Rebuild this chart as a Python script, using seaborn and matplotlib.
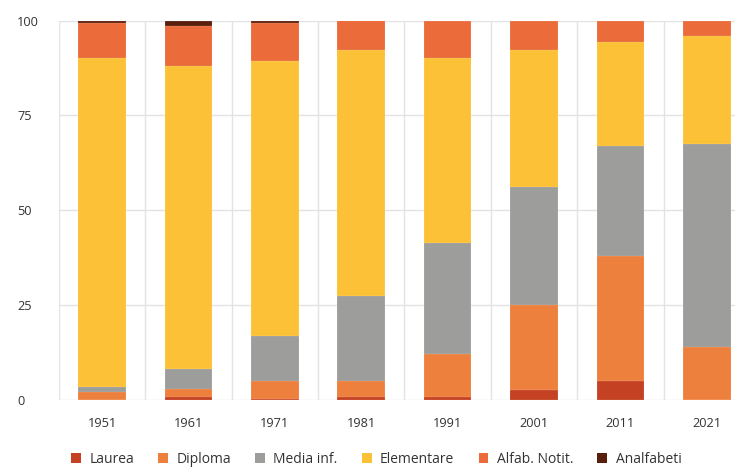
import matplotlib
matplotlib.use("Agg")
import matplotlib.pyplot as plt
import seaborn as sns
import pandas as pd
import numpy as np
from matplotlib.patches import Patch

years = ["1951", "1961", "1971", "1981", "1991", "2001", "2011", "2021"]
levels = ["Laurea", "Diploma", "Media inf.", "Elementare", "Alfab. Notit.", "Analfabeti"]
laurea      = [0.0, 0.8, 0.2, 0.8, 0.8, 2.7, 4.9, 0.0]
diploma     = [2.0, 2.0, 4.8, 4.2, 11.2, 22.4, 33.0, 14.0]
media_inf   = [1.5, 5.5, 11.8, 22.4, 29.3, 31.0, 28.9, 53.5]
elementare  = [86.6, 79.8, 72.6, 64.9, 48.8, 36.2, 27.5, 28.3]
alfab       = [9.2, 10.4, 10.0, 7.7, 9.9, 7.7, 5.7, 4.2]
analfabeti  = [0.7, 1.5, 0.6, 0.0, 0.0, 0.0, 0.0, 0.0]
colors = ["#c44223", "#ee803d", "#9d9d9b", "#fcc136", "#eb6b3b", "#5a1e0c"]
yticks = [0, 25, 50, 75, 100]

series = [laurea, diploma, media_inf, elementare, alfab, analfabeti]

sns.set_theme(style="white")
plt.rcParams["font.family"] = ["Open Sans", "DejaVu Sans"]

fig = plt.figure(figsize=(7.35, 4.68), dpi=100)
ax = fig.add_axes([58.8 / 735, 1 - 400 / 468, (750 - 58.8) / 735, (400 - 20.5) / 468])

cum = np.cumsum(np.array(series), axis=0)
for i in range(len(levels) - 1, -1, -1):
    df = pd.DataFrame({"year": years, "value": cum[i]})
    sns.barplot(data=df, x="year", y="value", color=colors[i], width=0.55,
                saturation=1, ax=ax, edgecolor=(1, 1, 1, 0.35), linewidth=0.3,
                zorder=3)

ax.set_xlim(-0.5, len(years) - 0.5)
ax.set_ylim(0, 100)
ax.set_yticks(yticks)
ax.set_yticklabels([str(v) for v in yticks])
ax.set_xticks(np.arange(-0.5, len(years), 1.0), minor=True)
ax.grid(True, axis="y", color="#e3e3e3", lw=1, zorder=0)
ax.grid(True, axis="x", which="minor", color="#e3e3e3", lw=1, zorder=0)
ax.grid(False, axis="x", which="major")
ax.set_xlabel("")
ax.set_ylabel("")
for s in ax.spines.values():
    s.set_visible(False)
ax.tick_params(axis="x", which="both", length=0, pad=12, labelsize=9.2, labelcolor="#333333")
ax.tick_params(axis="y", length=0, pad=30, labelsize=9.2, labelcolor="#333333")
for lab in ax.get_yticklabels():
    lab.set_horizontalalignment("left")

handles = [Patch(facecolor=c, edgecolor="none", label=l) for c, l in zip(colors, levels)]
fig.legend(handles=handles, loc="center", bbox_to_anchor=(0.512, 0.018), ncol=6,
           frameon=False, fontsize=10, handlelength=0.7, handleheight=0.7,
           handletextpad=0.6, columnspacing=1.75, labelcolor="#333333")

fig.savefig("out.png", dpi=100)
